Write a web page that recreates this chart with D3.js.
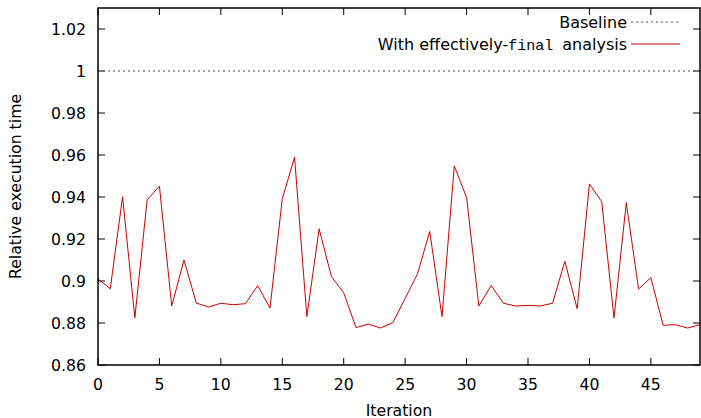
<!DOCTYPE html>
<html>
<head>
<meta charset="utf-8">
<script src="https://cdn.jsdelivr.net/npm/d3@7"></script>
<style>
body { margin: 0; background: #fff; }
text { font-family: "DejaVu Sans", sans-serif; fill: #000; }
</style>
</head>
<body>
<svg id="chart" width="701" height="418"></svg>
<script>
var iterations = d3.range(0, 50);
var relTime = [
	0.901, 0.8963, 0.9401, 0.8825, 0.9386, 0.9452, 0.8881, 0.910, 0.8895, 0.8876,
	0.8894, 0.8887, 0.8892, 0.8978, 0.8871, 0.9392, 0.9589, 0.8830, 0.9248, 0.9021,
	0.8944, 0.8778, 0.8795, 0.8776, 0.8802, 0.8917, 0.9033, 0.9236, 0.8830, 0.9548,
	0.9398, 0.8881, 0.8978, 0.8894, 0.8881, 0.8884, 0.8881, 0.8894, 0.9094, 0.8868,
	0.9462, 0.9378, 0.8824, 0.9373, 0.8962, 0.9016, 0.8789, 0.8792, 0.8776, 0.8792
];
var baseline = 1;
var yTicks = [0.86, 0.88, 0.9, 0.92, 0.94, 0.96, 0.98, 1, 1.02];
var xTicks = [0, 5, 10, 15, 20, 25, 30, 35, 40, 45];

var svg = d3.select("#chart");
var pLeft = 98, pRight = 700, pTop = 8, pBottom = 365;
var fs = "15.7px";

var x = d3.scaleLinear().domain([0, 49]).range([pLeft, pRight]);
var y = d3.scaleLinear().domain([0.86, 1.03]).range([pBottom, pTop]);

// ticks, inward and mirrored (gnuplot style)
var g = svg.append("g");
g.selectAll("line.yt").data(yTicks).enter().append("line")
	.attr("x1", pLeft).attr("x2", pLeft + 7)
	.attr("y1", function (d) {return y(d);}).attr("y2", function (d) {return y(d);})
	.attr("stroke", "#000").attr("stroke-width", 1);
g.selectAll("line.ytr").data(yTicks).enter().append("line")
	.attr("x1", pRight).attr("x2", pRight - 7)
	.attr("y1", function (d) {return y(d);}).attr("y2", function (d) {return y(d);})
	.attr("stroke", "#000").attr("stroke-width", 1);
g.selectAll("line.xt").data(xTicks).enter().append("line")
	.attr("x1", function (d) {return x(d);}).attr("x2", function (d) {return x(d);})
	.attr("y1", pBottom).attr("y2", pBottom - 7)
	.attr("stroke", "#000").attr("stroke-width", 1);
g.selectAll("line.xtt").data(xTicks).enter().append("line")
	.attr("x1", function (d) {return x(d);}).attr("x2", function (d) {return x(d);})
	.attr("y1", pTop).attr("y2", pTop + 7)
	.attr("stroke", "#000").attr("stroke-width", 1);

g.selectAll("text.yl").data(yTicks).enter().append("text")
	.attr("x", 86).attr("y", function (d) {return y(d);})
	.attr("dy", "0.36em").attr("text-anchor", "end")
	.style("font-size", fs)
	.text(function (d) {return +d.toFixed(2);});
g.selectAll("text.xl").data(xTicks).enter().append("text")
	.attr("x", function (d) {return x(d);}).attr("y", 390)
	.attr("text-anchor", "middle")
	.style("font-size", fs)
	.text(function (d) {return d;});

svg.append("text").attr("x", x(24.5)).attr("y", 416)
	.attr("text-anchor", "middle").style("font-size", fs).text("Iteration");
svg.append("text").attr("transform", "translate(21," + ((pTop + pBottom) / 2) + ") rotate(-90)")
	.attr("text-anchor", "middle").style("font-size", fs).text("Relative execution time");

// baseline
svg.append("line")
	.attr("x1", pLeft).attr("x2", pRight)
	.attr("y1", y(baseline)).attr("y2", y(baseline))
	.attr("stroke", "#555").attr("stroke-width", 1.2)
	.attr("stroke-dasharray", "2,3");

var line = d3.line()
	.x(function (d, i) {return x(iterations[i]);})
	.y(function (d) {return y(d);});
svg.append("path").datum(relTime)
	.attr("d", line)
	.attr("fill", "none")
	.attr("stroke", "#cc0000")
	.attr("stroke-width", 1);

// frame
svg.append("rect")
	.attr("x", pLeft).attr("y", pTop)
	.attr("width", pRight - pLeft).attr("height", pBottom - pTop)
	.attr("fill", "none").attr("stroke", "#000").attr("stroke-width", 1.5);

// legend
var lg = svg.append("g");
lg.append("text").attr("x", 627).attr("y", 22).attr("dy", "0.36em")
	.attr("text-anchor", "end").style("font-size", "16px").text("Baseline");
lg.append("line").attr("x1", 631).attr("x2", 680).attr("y1", 22).attr("y2", 22)
	.attr("stroke", "#555").attr("stroke-width", 1.2).attr("stroke-dasharray", "2,3");
var t2 = lg.append("text").attr("x", 627).attr("y", 44).attr("dy", "0.36em")
	.attr("text-anchor", "end").style("font-size", "16px");
t2.append("tspan").text("With effectively-");
t2.append("tspan").style("font-family", "'Liberation Mono', monospace").style("font-size", "15px")
	.style("white-space", "pre").text("final ");
t2.append("tspan").text("analysis");
lg.append("line").attr("x1", 631).attr("x2", 680).attr("y1", 44).attr("y2", 44)
	.attr("stroke", "#cc0000").attr("stroke-width", 1);
</script>
</body>
</html>
